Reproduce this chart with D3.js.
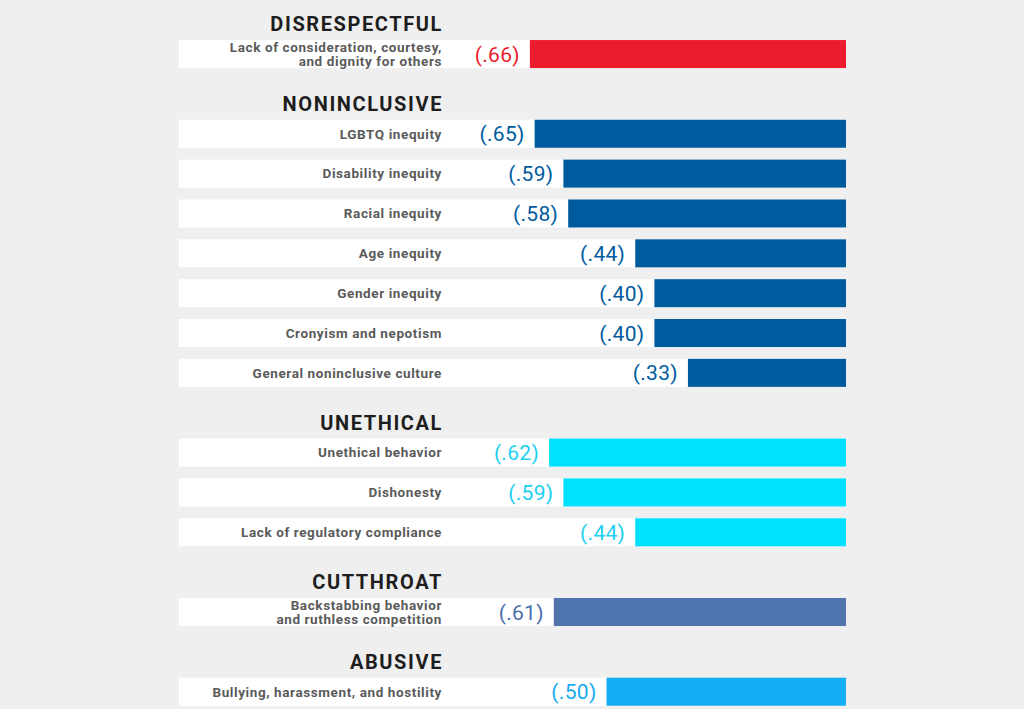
<!DOCTYPE html>
<html><head><meta charset="utf-8">
<script src="https://cdn.jsdelivr.net/npm/d3@7"></script>
<style>
html,body{margin:0;padding:0;background:#efefef;}
svg{display:block;}
</style></head>
<body>
<svg id="chart" width="1024" height="709"></svg>
<script>
const groups = ["DISRESPECTFUL","NONINCLUSIVE","UNETHICAL","CUTTHROAT","ABUSIVE"];
const groupColors = ["#ed1b2e","#005b9e","#00e1ff","#5074ae","#14adf4"];
const labelColors = ["#ed1b2e","#005b9e","#1dd0f2","#4a6fa9","#17a9ef"];
const itemGroups = [0,1,1,1,1,1,1,1,2,2,2,3,4];
const itemLabels = [
  ["Lack of consideration, courtesy,","and dignity for others"],
  ["LGBTQ inequity"],
  ["Disability inequity"],
  ["Racial inequity"],
  ["Age inequity"],
  ["Gender inequity"],
  ["Cronyism and nepotism"],
  ["General noninclusive culture"],
  ["Unethical behavior"],
  ["Dishonesty"],
  ["Lack of regulatory compliance"],
  ["Backstabbing behavior","and ruthless competition"],
  ["Bullying, harassment, and hostility"]
];
const itemValues = [0.66,0.65,0.59,0.58,0.44,0.40,0.40,0.33,0.62,0.59,0.44,0.61,0.50];
const valueLabels = ["(.66)","(.65)","(.59)","(.58)","(.44)","(.40)","(.40)","(.33)","(.62)","(.59)","(.44)","(.61)","(.50)"];

// build slot list: header + items per group
const slots = [];
groups.forEach((g,gi)=>{
  slots.push({type:"header", group:gi, text:g});
  itemGroups.forEach((ig,i)=>{ if(ig===gi) slots.push({type:"item", group:gi, idx:i}); });
});

const svg = d3.select("#chart");
const y = d3.scaleBand().domain(d3.range(slots.length)).range([-5.7, 711.6]).paddingInner(0.297).paddingOuter(0.148);
const x = d3.scaleLinear().domain([0,1]).range([846, 367]);
const rowLeft = 179, labelRight = 442;
const font = "Roboto, 'Liberation Sans', Arial, sans-serif";

const items = slots.map((s,i)=>({...s, slot:i})).filter(s=>s.type==="item");
const headers = slots.map((s,i)=>({...s, slot:i})).filter(s=>s.type==="header");

svg.append("g").selectAll("rect").data(items).join("rect")
  .attr("x", rowLeft).attr("y", d=>y(d.slot))
  .attr("width", x(0)-rowLeft).attr("height", y.bandwidth())
  .attr("fill", "#ffffff");

svg.append("g").selectAll("rect").data(items).join("rect")
  .attr("x", d=>x(itemValues[d.idx])).attr("y", d=>y(d.slot))
  .attr("width", d=>x(0)-x(itemValues[d.idx])).attr("height", y.bandwidth())
  .attr("fill", d=>groupColors[d.group]);

svg.append("g").selectAll("text").data(items).join("text")
  .attr("x", d=>x(itemValues[d.idx]) - 10)
  .attr("y", d=>y(d.slot)+y.bandwidth()/2)
  .attr("dy","0.36em")
  .attr("text-anchor","end")
  .attr("font-family", font).attr("font-size", 21).attr("font-weight", 400)
  .attr("letter-spacing", 0.3)
  .attr("fill", d=>labelColors[d.group])
  .text(d=>valueLabels[d.idx]);

const lab = svg.append("g").selectAll("text").data(items).join("text")
  .attr("x", labelRight)
  .attr("y", d=>y(d.slot)+y.bandwidth()/2)
  .attr("text-anchor","end")
  .attr("font-family", font).attr("font-size", 13.5).attr("font-weight", 700)
  .attr("letter-spacing", 0.6)
  .attr("fill", "#5a5a5a");
lab.each(function(d){
  const lines = itemLabels[d.idx];
  const n = lines.length;
  d3.select(this).selectAll("tspan").data(lines).join("tspan")
    .attr("x", labelRight)
    .attr("dy", (l,i)=> i===0 ? ((0.36 - (n-1)*0.52)+"em") : "1.04em")
    .text(l=>l);
});

svg.append("g").selectAll("text").data(headers).join("text")
  .attr("x", labelRight + 1)
  .attr("y", d=>y(d.slot)+y.bandwidth() + 3)
  .attr("text-anchor","end")
  .attr("font-family", font).attr("font-size", 20).attr("font-weight", 700)
  .attr("letter-spacing", 1.6)
  .attr("fill", "#1e1e1e")
  .text(d=>d.text);
</script>
</body></html>
